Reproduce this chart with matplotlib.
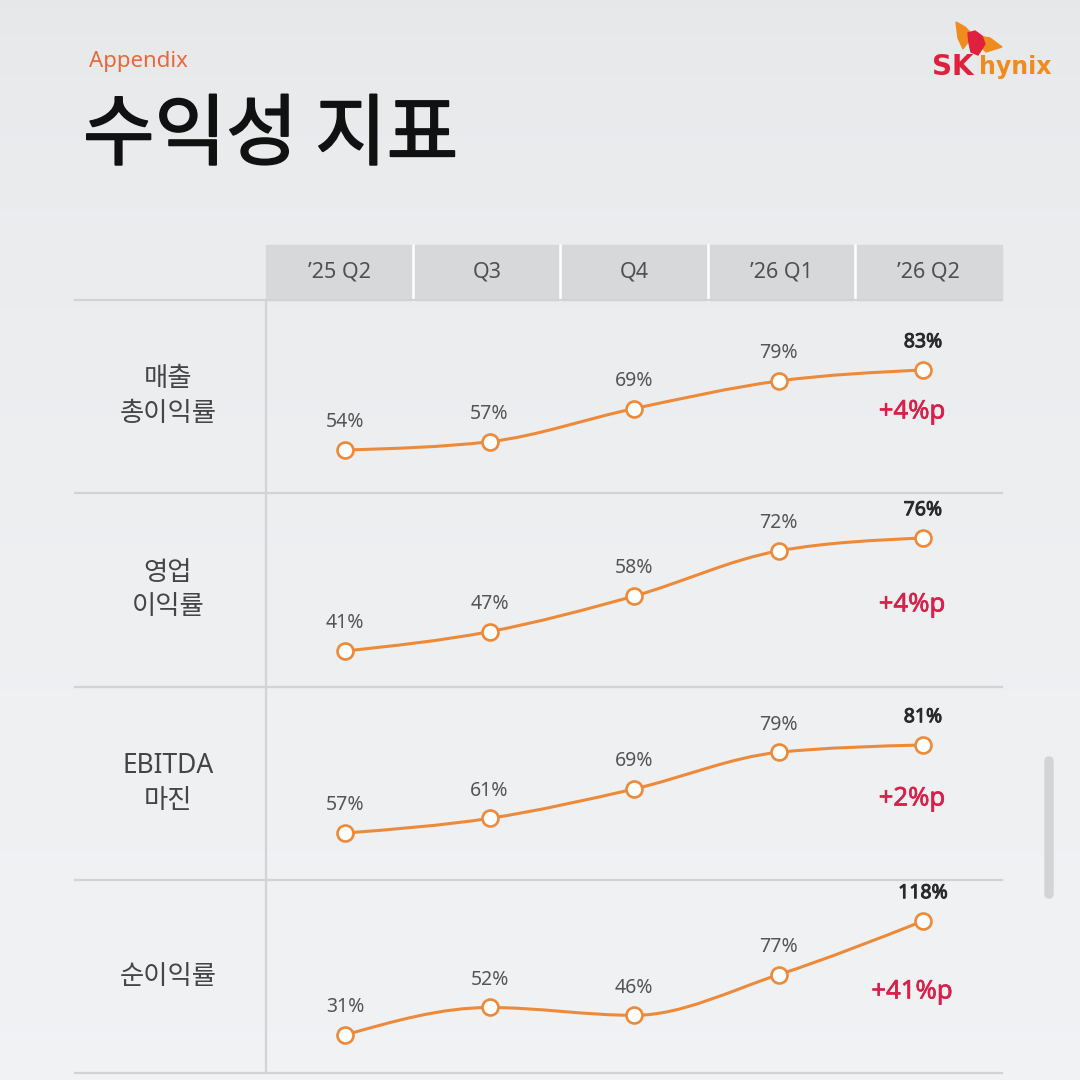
import numpy as np
import matplotlib
matplotlib.use("Agg")
import matplotlib.pyplot as plt
import matplotlib.patheffects as pe
from matplotlib.path import Path
from matplotlib.patches import PathPatch, Rectangle, Polygon, FancyBboxPatch

plt.rcParams['font.family'] = ['Noto Sans CJK KR', 'DejaVu Sans']
LAT = ['Noto Sans', 'Noto Sans CJK KR', 'DejaVu Sans']

# ---------------- data ----------------
quarters = ["’25 Q2", "Q3", "Q4", "’26 Q1", "’26 Q2"]
row_labels = ["매출\n총이익률", "영업\n이익률", "EBITDA\n마진", "순이익률"]
gross_margin = [54, 57, 69, 79, 83]
operating_margin = [41, 47, 58, 72, 76]
ebitda_margin = [57, 61, 69, 79, 81]
net_margin = [31, 52, 46, 77, 118]
deltas = ["+4%p", "+4%p", "+2%p", "+41%p"]
series = [gross_margin, operating_margin, ebitda_margin, net_margin]

# ---------------- style ----------------
W = H = 1080
ORANGE = "#ec8a3a"
RED = "#d8204a"
GRID = "#d2d3d5"
TXT = "#454545"

def heavier(color, w):
    return [pe.withStroke(linewidth=w, foreground=color)]

fig = plt.figure(figsize=(10.8, 10.8), dpi=100)
bg = fig.add_axes([0, 0, 1, 1])
bg.set_xlim(0, W)
bg.set_ylim(H, 0)
bg.axis("off")

# background gradient (vertical)
yy = np.linspace(0, 1, 1080)[:, None, None]
top = np.array([0.902, 0.906, 0.914])
bot = np.array([0.945, 0.950, 0.958])
t = np.sqrt(yy)
grad = top * (1 - t) + bot * t
grad = np.repeat(grad, 4, axis=1)
bg.imshow(grad, extent=[0, W, H, 0], aspect="auto", zorder=0, interpolation="bilinear")

# titles
bg.text(89, 62, "Appendix", color="#e8683a", fontsize=16, va="center", ha="left", family=LAT)
bg.text(83, 137, "수익성 지표", color="#111111", fontsize=56, va="center", ha="left",
        path_effects=heavier("#111111", 1.3))

# logo
bg.add_patch(Polygon([(956, 22), (965, 27), (971, 33), (968, 42), (963, 49), (958, 38)],
                     closed=True, color="#f08c1e", zorder=3))
bg.add_patch(Polygon([(968, 33), (975, 31), (982, 36), (985, 44), (978, 55), (971, 52), (969, 43)],
                     closed=True, color="#e0203c", zorder=4))
bg.add_patch(Polygon([(978, 36), (990, 38), (1002, 47), (986, 52), (980, 46)],
                     closed=True, color="#f08c1e", zorder=3))
bg.text(932, 67, "SK", color="#e0203c", fontsize=20, fontweight="bold", va="center", ha="left",
        family=["DejaVu Sans"])
bg.text(979, 67, "hynix", color="#f08c1e", fontsize=17, fontweight="bold", va="center", ha="left",
        family=["DejaVu Sans"])

# header
x_left, x_right = 266, 1002
col_w = (x_right - x_left) / len(quarters)
bg.add_patch(Rectangle((x_left, 245), x_right - x_left, 55, color="#d7d8d9", zorder=1))
for i, q in enumerate(quarters):
    cx = x_left + col_w * (i + 0.5)
    bg.text(cx, 272, q, ha="center", va="center", fontsize=15.5, color="#505050", family=LAT)
    if i > 0:
        bg.plot([x_left + col_w * i] * 2, [245, 300], color="white", lw=1.8, zorder=2)

# row grid
row_bounds = [300, 493, 687, 880, 1073]
for yb in row_bounds:
    bg.plot([75, x_right], [yb, yb], color=GRID, lw=1.6, zorder=2)
bg.plot([x_left, x_left], [300, 1073], color=GRID, lw=1.6, zorder=2)

# row labels and deltas
for i, lab in enumerate(row_labels):
    cy = (row_bounds[i] + row_bounds[i + 1]) / 2
    bg.text(168, cy, lab, ha="center", va="center", fontsize=19, color=TXT, linespacing=1.3,
            family=LAT)
    bg.text(912, row_bounds[i] + 112, deltas[i], ha="center", va="center",
            fontsize=18.5, color=RED, family=LAT, path_effects=heavier(RED, 0.45))

# scrollbar
bg.add_patch(FancyBboxPatch((1045, 757), 8, 141, boxstyle="round,pad=0,rounding_size=4",
                            color="#d3d4d6", zorder=2))

# ---------------- line rows ----------------
def monotone_path(x, y):
    x = np.asarray(x, float)
    y = np.asarray(y, float)
    n = len(x)
    h = np.diff(x)
    s = np.diff(y) / h
    tang = np.zeros(n)
    for k in range(1, n - 1):
        p = (s[k - 1] * h[k] + s[k] * h[k - 1]) / (h[k - 1] + h[k])
        tang[k] = (np.sign(s[k - 1]) + np.sign(s[k])) * min(abs(s[k - 1]), abs(s[k]), 0.5 * abs(p))
    tang[0] = (3 * s[0] - tang[1]) / 2
    tang[-1] = (3 * s[-1] - tang[-2]) / 2
    verts = [(x[0], y[0])]
    codes = [Path.MOVETO]
    for k in range(n - 1):
        dx = (x[k + 1] - x[k]) / 3
        verts += [(x[k] + dx, y[k] + dx * tang[k]),
                  (x[k + 1] - dx, y[k + 1] - dx * tang[k + 1]),
                  (x[k + 1], y[k + 1])]
        codes += [Path.CURVE4] * 3
    return Path(verts, codes)

# pixel rect for each row: (y of max value, y of min value)
row_rects = [(370, 450), (538, 651), (745, 833), (921, 1035)]
px0, px1 = 345, 923
xs = np.arange(len(quarters))
for i, vals in enumerate(series):
    ytop, ybot = row_rects[i]
    ax = fig.add_axes([px0 / W, 1 - ybot / H, (px1 - px0) / W, (ybot - ytop) / H])
    ax.set_xlim(0, len(quarters) - 1)
    ax.set_ylim(min(vals), max(vals))
    ax.axis("off")
    ax.patch.set_alpha(0)
    ax.add_patch(PathPatch(monotone_path(xs, vals), facecolor="none", edgecolor=ORANGE,
                           lw=2.2, clip_on=False, zorder=3))
    ax.plot(xs, vals, "o", ms=11.5, mfc="white", mec=ORANGE, mew=1.9, clip_on=False, zorder=4)
    for k, v in enumerate(vals):
        last = k == len(vals) - 1
        col = "#2a2a2a" if last else "#555555"
        ax.annotate(f"{v}%", (xs[k], v), xytext=(0, 20), textcoords="offset points",
                    ha="center", va="center", fontsize=14, family=LAT, color=col,
                    path_effects=heavier(col, 0.7) if last else None,
                    annotation_clip=False)

fig.savefig("out.png", dpi=100)
